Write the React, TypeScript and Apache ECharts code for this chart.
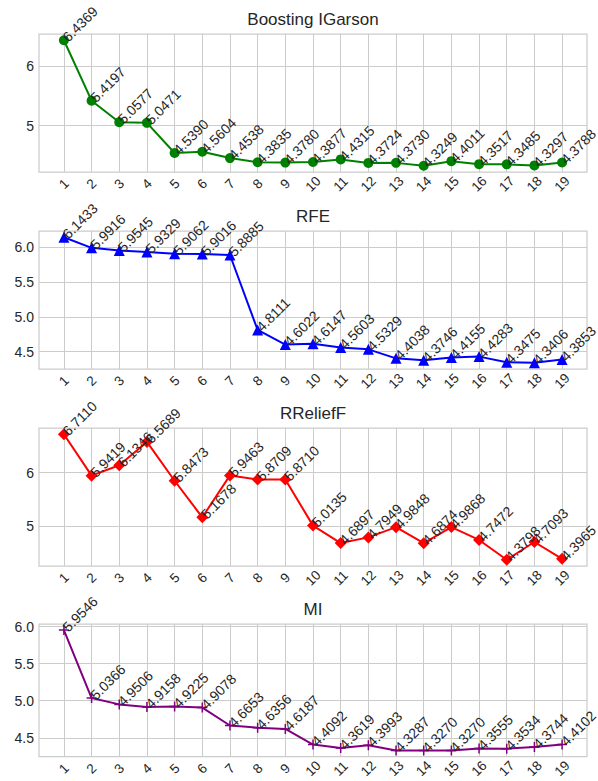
import React, { useEffect, useRef } from 'react';
import * as echarts from 'echarts';

// Number of selected features (x axis)
const FEATURE_COUNTS = [1, 2, 3, 4, 5, 6, 7, 8, 9, 10, 11, 12, 13, 14, 15, 16, 17, 18, 19];

// Error per feature count for each selection method
const BOOSTING_IGARSON = [
  6.4369, 5.4197, 5.0577, 5.0471, 4.539, 4.5604, 4.4538, 4.3835, 4.378, 4.3877,
  4.4315, 4.3724, 4.373, 4.3249, 4.4011, 4.3517, 4.3485, 4.3297, 4.3788,
];
const RFE = [
  6.1433, 5.9916, 5.9545, 5.9329, 5.9062, 5.9016, 5.8885, 4.8111, 4.6022, 4.6147,
  4.5603, 4.5329, 4.4038, 4.3746, 4.4155, 4.4283, 4.3475, 4.3406, 4.3853,
];
const RRELIEFF = [
  6.711, 5.9419, 6.1346, 6.5689, 5.8473, 5.1678, 5.9463, 5.8709, 5.871, 5.0135,
  4.6897, 4.7949, 4.9848, 4.6874, 4.9868, 4.7472, 4.3798, 4.7093, 4.3965,
];
const MI = [
  5.9546, 5.0366, 4.9506, 4.9158, 4.9225, 4.9078, 4.6653, 4.6356, 4.6187, 4.4092,
  4.3619, 4.3993, 4.3287, 4.327, 4.327, 4.3555, 4.3534, 4.3744, 4.4102,
];

const TITLES = ['Boosting IGarson', 'RFE', 'RReliefF', 'MI'];
const Y_TICKS_INT = [5, 6];
const Y_TICKS_HALF = [4.5, 5.0, 5.5, 6.0];

const FONT = '"Liberation Sans", Arial, Helvetica, sans-serif';
const TEXT = '#262626';
const GRID_COLOR = '#cccccc';

const PLUS = 'path://M8.5,0H11.5V8.5H20V11.5H11.5V20H8.5V11.5H0V8.5H8.5Z';

const PANELS = [
  { title: TITLES[0], values: BOOSTING_IGARSON, color: '#008000', symbol: 'circle', size: 10, yTicks: Y_TICKS_INT, digits: 0 },
  { title: TITLES[1], values: RFE, color: '#0000ff', symbol: 'triangle', size: 11, yTicks: Y_TICKS_HALF, digits: 1 },
  { title: TITLES[2], values: RRELIEFF, color: '#ff0000', symbol: 'diamond', size: 12, yTicks: Y_TICKS_INT, digits: 0 },
  { title: TITLES[3], values: MI, color: '#800080', symbol: PLUS, size: 10, yTicks: Y_TICKS_HALF, digits: 1 },
];

const GRID_TOPS = [34, 231, 428, 624];
const GRID_HEIGHT = 138;
const GRID_LEFT = 39;
const GRID_RIGHT = 11;
const WIDTH = 598;
const HEIGHT = 781;

function buildOption() {
  const xPad = (FEATURE_COUNTS[FEATURE_COUNTS.length - 1] - FEATURE_COUNTS[0]) * 0.05;
  const centerX = GRID_LEFT + (WIDTH - GRID_LEFT - GRID_RIGHT) / 2;

  const title: any[] = [];
  const grid: any[] = [];
  const xAxis: any[] = [];
  const yAxis: any[] = [];
  const series: any[] = [];

  PANELS.forEach((p, i) => {
    const lo = Math.min(...p.values);
    const hi = Math.max(...p.values);
    const yPad = (hi - lo) * 0.05;

    title.push({
      text: p.title,
      left: centerX,
      top: GRID_TOPS[i] - 23,
      textAlign: 'center',
      padding: 0,
      textStyle: { fontFamily: FONT, fontSize: 17, fontWeight: 'normal', color: TEXT },
    });

    grid.push({
      left: GRID_LEFT,
      right: GRID_RIGHT,
      top: GRID_TOPS[i],
      height: GRID_HEIGHT,
      show: true,
      borderColor: GRID_COLOR,
      borderWidth: 1.25,
      backgroundColor: '#ffffff',
    });

    xAxis.push({
      type: 'value',
      gridIndex: i,
      min: FEATURE_COUNTS[0] - xPad,
      max: FEATURE_COUNTS[FEATURE_COUNTS.length - 1] + xPad,
      axisLine: { show: false },
      axisTick: { show: false, customValues: FEATURE_COUNTS },
      splitLine: { show: true, lineStyle: { color: GRID_COLOR, width: 1 } },
      axisLabel: {
        customValues: FEATURE_COUNTS,
        rotate: 45,
        align: 'center',
        verticalAlign: 'middle',
        margin: 12,
        fontFamily: FONT,
        fontSize: 13.5,
        color: TEXT,
        formatter: (v: number) => String(Math.round(v)),
      },
    });

    yAxis.push({
      type: 'value',
      gridIndex: i,
      min: lo - yPad,
      max: hi + yPad,
      axisLine: { show: false },
      axisTick: { show: false, customValues: p.yTicks },
      splitLine: { show: true, lineStyle: { color: GRID_COLOR, width: 1 } },
      axisLabel: {
        customValues: p.yTicks,
        margin: 5,
        fontFamily: FONT,
        fontSize: 14,
        color: TEXT,
        formatter: (v: number) => v.toFixed(p.digits),
      },
    });

    series.push({
      type: 'line',
      xAxisIndex: i,
      yAxisIndex: i,
      data: FEATURE_COUNTS.map((x, k) => [x, p.values[k]]),
      symbol: p.symbol,
      symbolSize: p.size,
      showAllSymbol: true,
      lineStyle: { color: p.color, width: 2 },
      itemStyle: { color: p.color },
      label: {
        show: true,
        position: [p.size / 2 + 6, p.size / 2 + 4],
        align: 'left',
        verticalAlign: 'bottom',
        rotate: 45,
        fontFamily: FONT,
        fontSize: 14,
        color: TEXT,
        formatter: (params: any) => params.value[1].toFixed(4),
      },
      emphasis: { disabled: true },
    });
  });

  return { animation: false, backgroundColor: '#ffffff', title, grid, xAxis, yAxis, series };
}

export default function App() {
  const ref = useRef<HTMLDivElement>(null);

  useEffect(() => {
    if (!ref.current) return;
    const chart = echarts.init(ref.current, null, { renderer: 'svg' });
    chart.setOption(buildOption());
    return () => chart.dispose();
  }, []);

  return (
    <div
      ref={ref}
      style={{ position: 'absolute', left: 0, top: 0, width: WIDTH, height: HEIGHT, background: '#fff' }}
    />
  );
}
